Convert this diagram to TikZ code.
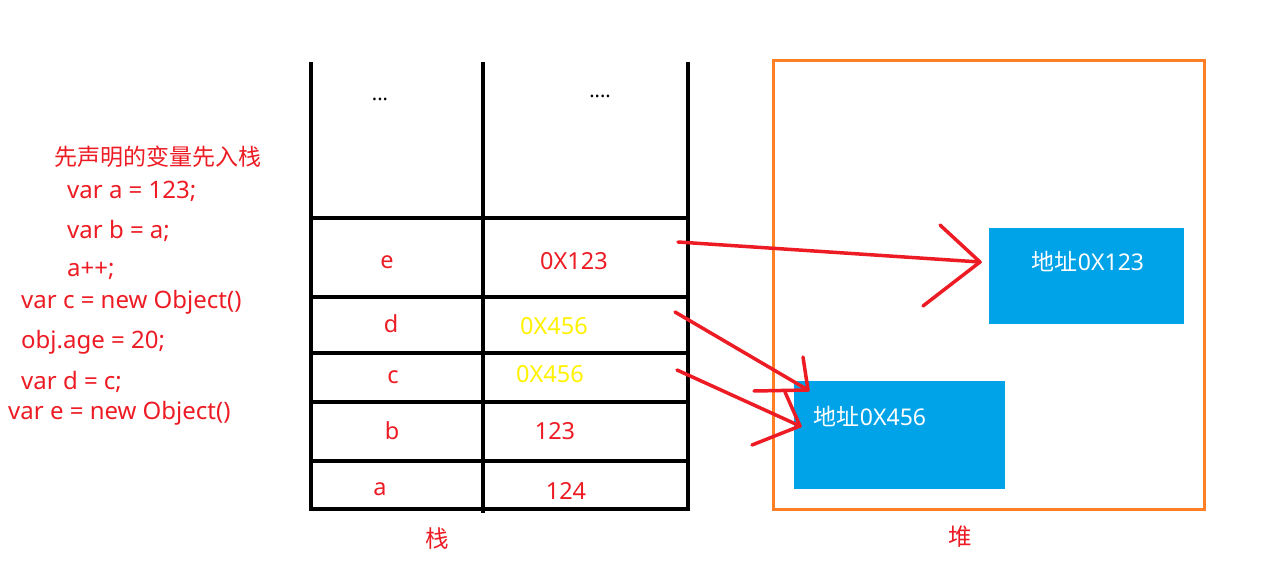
\documentclass[tikz,border=0pt]{standalone}
\usepackage{fontspec}
\setmainfont{Noto Sans}
\newfontfamily\cjk{Noto Sans CJK SC}
\definecolor{pred}{HTML}{ED1C24}
\definecolor{pyellow}{HTML}{FFF200}
\definecolor{pblue}{HTML}{00A2E8}
\definecolor{porange}{HTML}{FF7F27}
\tikzset{
  stackline/.style={line width=4.5pt,black},
  redtxt/.style={text=pred,font=\fontsize{23.5}{26}\selectfont,inner sep=0pt},
  yeltxt/.style={text=pyellow,font=\fontsize{23.5}{26}\selectfont,inner sep=0pt},
  codetxt/.style={text=pred,font=\fontsize{24}{26}\selectfont,inner sep=0pt,anchor=west},
  heapbox/.style={fill=pblue,draw=none},
  whitetxt/.style={text=white,font=\fontsize{23}{26}\selectfont,inner sep=0pt},
  dotstxt/.style={font=\fontsize{20}{20}\bfseries\selectfont,inner sep=0pt},
  refarrow/.style={draw=pred,line width=3.5pt,line cap=round,line join=round},
}
\begin{document}
\begin{tikzpicture}[x=1pt,y=-1pt]
\useasboundingbox[fill=white] (0,0) rectangle (1279,561);
% stack grid
\draw[stackline] (311,62) -- (311,510);
\draw[stackline] (483,62) -- (483,513);
\draw[stackline] (688,62) -- (688,510);
\foreach \yy in {218,297,353,402,461,509}
  \draw[stackline] (309,\yy) -- (690,\yy);
% stack contents
\node[dotstxt] (dl) at (380,99) {...};
\node[dotstxt] (dr) at (600,96) {....};
\node[redtxt] (ne) at (387,262) {e};
\node[redtxt] (ve) at (574,261) {0X123};
\node[redtxt] (nd) at (391,324) {d};
\node[yeltxt] (vd) at (554,326) {0X456};
\node[redtxt] (nc) at (393,377) {c};
\node[yeltxt] (vc) at (550,374) {0X456};
\node[redtxt] (nb) at (392,431) {b};
\node[redtxt] (vb) at (555,431) {123};
\node[redtxt] (na) at (380,489) {a};
\node[redtxt] (va) at (566,491) {124};
\node[redtxt] (stk) at (437,539) {\cjk 栈};
% heap
\draw[porange,line width=3pt] (773,61) rectangle (1204,509);
\node[redtxt] (hp) at (960,537) {\cjk 堆};
\path[heapbox] (989,228) rectangle (1184,324);
\node[whitetxt] (h1) at (1088,261) {{\cjk 地址}0X123};
\path[heapbox] (794,381) rectangle (1005,489);
\node[whitetxt] (h2) at (870,416) {{\cjk 地址}0X456};
% code text
\node[redtxt,font=\fontsize{23}{24}\cjk,anchor=west] (t0) at (54,157) {先声明的变量先入栈};
\node[codetxt] (t1) at (67,191) {var a = 123;};
\node[codetxt] (t2) at (67,231) {var b = a;};
\node[codetxt] (t3) at (67,271) {a++;};
\node[codetxt] (t4) at (21,302) {var c = new Object()};
\node[codetxt] (t5) at (21,342) {obj.age = 20;};
\node[codetxt] (t6) at (21,382) {var d = c;};
\node[codetxt] (t7) at (8,413) {var e = new Object()};
% arrows
\coordinate (s1) at (678,242);
\coordinate (e1) at (980,262);
\coordinate (s2) at (675,312);
\coordinate (e2) at (808,390);
\coordinate (s3) at (677,370);
\coordinate (e3) at (800,426);
\draw[refarrow] (s1) -- (e1);
\draw[refarrow] (940,225) -- (e1) -- (923,306);
\draw[refarrow] (s2) -- (e2);
\draw[refarrow] (803,357) -- (e2) -- (754,391);
\draw[refarrow] (s3) -- (e3);
\draw[refarrow] (785,392) -- (e3) -- (752,445);
\end{tikzpicture}
\end{document}
